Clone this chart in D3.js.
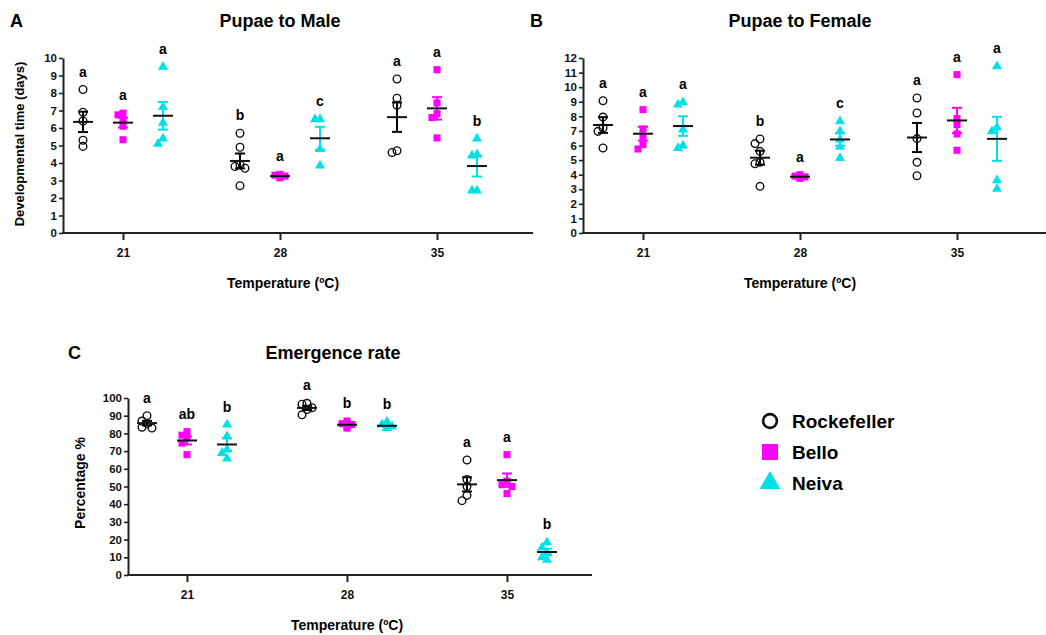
<!DOCTYPE html>
<html>
<head>
<meta charset="utf-8">
<script src="https://cdn.jsdelivr.net/npm/d3@7"></script>
<style>
  body { margin: 0; background: #fff; }
  svg { font-family: "Liberation Sans", Arial, sans-serif; }
</style>
</head>
<body>
<div id="chart"></div>
<script>
// temperatures and strains
var temps = [21, 28, 35];
var strains = ["Rockefeller", "Bello", "Neiva"];
var colors = ["#000000", "#ff00ff", "#00e0e8"];

// Pupae to Male (days), one list per temperature
var maleRockefeller = [[8.2, 6.9, 6.4, 5.3, 4.95], [5.7, 4.9, 3.9, 3.7, 3.8, 2.7], [8.8, 7.7, 7.3, 4.6, 4.7]];
var maleBello = [[6.85, 6.75, 6.5, 6.1, 5.33], [3.3, 3.2, 3.35, 3.15, 3.25], [9.33, 7.43, 6.82, 6.6, 5.43]];
var maleNeiva = [[9.5, 7.2, 6.3, 5.4, 5.1], [6.5, 6.5, 4.8, 3.85], [5.39, 4.48, 4.42, 2.42, 2.42]];
var maleLetters = [["a", "a", "a"], ["b", "a", "c"], ["a", "a", "b"]];

// Pupae to Female (days)
var femaleRockefeller = [[9.07, 7.95, 7.2, 6.97, 5.83], [6.45, 6.13, 5.6, 4.85, 4.75, 3.2], [9.26, 8.23, 6.47, 4.85, 3.93]];
var femaleBello = [[8.46, 7.13, 6.63, 6.06, 5.76], [4.0, 3.9, 3.8, 3.75, 3.85], [10.86, 7.84, 7.43, 6.79, 5.67]];
var femaleNeiva = [[8.96, 8.8, 7.09, 5.99, 5.83], [7.66, 6.97, 6.4, 5.9, 5.14], [11.43, 7.25, 6.97, 3.61, 3.02]];
var femaleLetters = [["a", "a", "a"], ["b", "a", "c"], ["a", "a", "a"]];

// Emergence rate (%)
var emergRockefeller = [[90, 87, 85.5, 83.5, 83], [97, 96.5, 94.5, 93.5, 90.5], [65, 54, 50, 45, 42]];
var emergBello = [[81, 79, 77.5, 74.5, 68], [87, 85.5, 85, 84, 83], [68, 53, 51, 50, 46]];
var emergNeiva = [[85, 78.3, 70.8, 68.9, 65.7], [86.5, 85, 84, 83, 83], [18.5, 15.5, 12.5, 10, 8.5]];
var emergLetters = [["a", "ab", "b"], ["a", "b", "b"], ["a", "a", "b"]];

var width = 1046, height = 635;

var svg = d3.select("#chart").append("svg")
  .attr("width", width)
  .attr("height", height);

var symbols = [d3.symbolCircle, d3.symbolSquare, d3.symbolTriangle];
var symSizes = [46, 50, 44];

function drawPanel(p) {
  var g = svg.append("g");
  var x = d3.scaleLinear().domain([21, 35]).range([p.t21, p.t35]);
  var off = d3.scalePoint().domain(strains).range([-40, 40]);
  var y = d3.scaleLinear().domain([0, p.yMax]).range([p.bottom, p.top]);

  // y axis
  var yAxis = g.append("g")
    .attr("transform", "translate(" + p.left + ",0)")
    .call(d3.axisLeft(y)
      .tickValues(d3.range(0, p.yMax + p.step / 2, p.step))
      .tickSize(4).tickSizeOuter(0).tickPadding(2)
      .tickFormat(d3.format("d")));
  yAxis.selectAll("text").style("font-size", "11.5px").style("font-weight", "bold").attr("fill", "#111");
  yAxis.selectAll("line").attr("stroke", "#222").attr("stroke-width", 1.6);
  yAxis.select(".domain").attr("stroke", "#222").attr("stroke-width", 2);

  // x axis
  g.append("line")
    .attr("x1", p.left - 1).attr("x2", p.right)
    .attr("y1", p.bottom).attr("y2", p.bottom)
    .attr("stroke", "#222").attr("stroke-width", 2);
  var xAxis = g.append("g")
    .attr("transform", "translate(0," + p.bottom + ")")
    .call(d3.axisBottom(x).tickValues(temps).tickSize(7).tickSizeOuter(0).tickPadding(8));
  xAxis.select(".domain").remove();
  xAxis.selectAll("line").attr("stroke", "#222").attr("stroke-width", 2);
  xAxis.selectAll("text").style("font-size", "12px").style("font-weight", "bold").attr("fill", "#111");

  p.series.forEach(function (serie, j) {
    serie.forEach(function (vals, i) {
      var cx = x(temps[i]) + off(strains[j]);
      var mean = d3.mean(vals);
      var sem = d3.deviation(vals) / Math.sqrt(vals.length);

      // column scatter: shift a point sideways only when it would sit on another
      var placed = [];
      var sorted = vals.slice().sort(function (a, b) { return b - a; });
      sorted.forEach(function (v) {
        var py = y(v);
        var cands = [0, -5, 5, -9, 9];
        var dx = 0;
        for (var k = 0; k < cands.length; k++) {
          var hit = placed.some(function (q) {
            return Math.abs(q.y - py) < 5.5 && Math.abs(q.dx - cands[k]) < 5;
          });
          if (!hit) { dx = cands[k]; break; }
        }
        placed.push({ y: py, dx: dx });
      });

      g.selectAll(null)
        .data(placed)
        .enter()
        .append("path")
        .attr("d", d3.symbol().type(symbols[j]).size(symSizes[j]))
        .attr("transform", function (d) { return "translate(" + (cx + d.dx) + "," + d.y + ")"; })
        .attr("fill", j == 0 ? "none" : colors[j])
        .attr("stroke", j == 0 ? "#111" : "none")
        .attr("stroke-width", 1.4);

      // error bar (SEM)
      var eb = g.append("g").attr("stroke", colors[j]).attr("stroke-width", 2);
      eb.append("line").attr("x1", cx).attr("x2", cx).attr("y1", y(mean - sem)).attr("y2", y(mean + sem));
      eb.append("line").attr("x1", cx - 5).attr("x2", cx + 5).attr("y1", y(mean - sem)).attr("y2", y(mean - sem));
      eb.append("line").attr("x1", cx - 5).attr("x2", cx + 5).attr("y1", y(mean + sem)).attr("y2", y(mean + sem));
      // mean
      g.append("line")
        .attr("x1", cx - 10).attr("x2", cx + 10)
        .attr("y1", y(mean)).attr("y2", y(mean))
        .attr("stroke", "#111").attr("stroke-width", 2);

      // letter
      var top = Math.max(d3.max(vals), mean + sem);
      g.append("text")
        .attr("x", cx)
        .attr("y", y(top) - 13)
        .attr("text-anchor", "middle")
        .style("font-size", "14px")
        .style("font-weight", "bold")
        .text(p.letters[i][j]);
    });
  });

  // titles
  svg.append("text").attr("x", p.letterX).attr("y", p.titleY)
    .style("font-size", "18px").style("font-weight", "bold").text(p.panel);
  svg.append("text").attr("x", p.titleX).attr("y", p.titleY)
    .attr("text-anchor", "middle")
    .style("font-size", "18px").style("font-weight", "bold").text(p.title);
  svg.append("text").attr("x", p.xlabX).attr("y", p.xlabY)
    .attr("text-anchor", "middle")
    .style("font-size", "14px").style("font-weight", "bold").text("Temperature (ºC)");
  if (p.ylabel) {
    svg.append("text")
      .attr("transform", "translate(" + p.ylabX + "," + p.ylabY + ") rotate(-90)")
      .attr("text-anchor", "middle")
      .attr("dy", "0.35em")
      .style("font-size", p.ylabSize).style("font-weight", "bold").text(p.ylabel);
  }
}

drawPanel({
  panel: "A", title: "Pupae to Male", letterX: 10, titleX: 280, titleY: 27,
  left: 63, right: 533, top: 58, bottom: 233, yMax: 10, step: 1, t21: 123, t35: 437,
  series: [maleRockefeller, maleBello, maleNeiva], letters: maleLetters,
  xlabX: 283, xlabY: 288, ylabel: "Developmental time (days)", ylabX: 19, ylabY: 144, ylabSize: "13px"
});

drawPanel({
  panel: "B", title: "Pupae to Female", letterX: 530, titleX: 800, titleY: 27,
  left: 583, right: 1046, top: 58, bottom: 233, yMax: 12, step: 1, t21: 643, t35: 957,
  series: [femaleRockefeller, femaleBello, femaleNeiva], letters: femaleLetters,
  xlabX: 800, xlabY: 288
});

drawPanel({
  panel: "C", title: "Emergence rate", letterX: 68, titleX: 333, titleY: 359,
  left: 128, right: 592, top: 398, bottom: 575, yMax: 100, step: 10, t21: 187, t35: 507,
  series: [emergRockefeller, emergBello, emergNeiva], letters: emergLetters,
  xlabX: 347, xlabY: 630, ylabel: "Percentage %", ylabX: 80, ylabY: 483, ylabSize: "14px"
});

// legend
var legend = svg.append("g").attr("transform", "translate(770,0)");
var legY = [421, 452, 483];
strains.forEach(function (s, j) {
  legend.append("path")
    .attr("d", d3.symbol().type(symbols[j]).size(j == 0 ? 150 : (j == 1 ? 256 : 190)))
    .attr("transform", "translate(0," + legY[j] + ")")
    .attr("fill", j == 0 ? "none" : colors[j])
    .attr("stroke", j == 0 ? "#111" : "none")
    .attr("stroke-width", 2.6);
  legend.append("text")
    .attr("x", 22).attr("y", legY[j])
    .attr("dy", "0.36em")
    .style("font-size", "19px").style("font-weight", "bold")
    .text(s);
});
</script>
</body>
</html>
